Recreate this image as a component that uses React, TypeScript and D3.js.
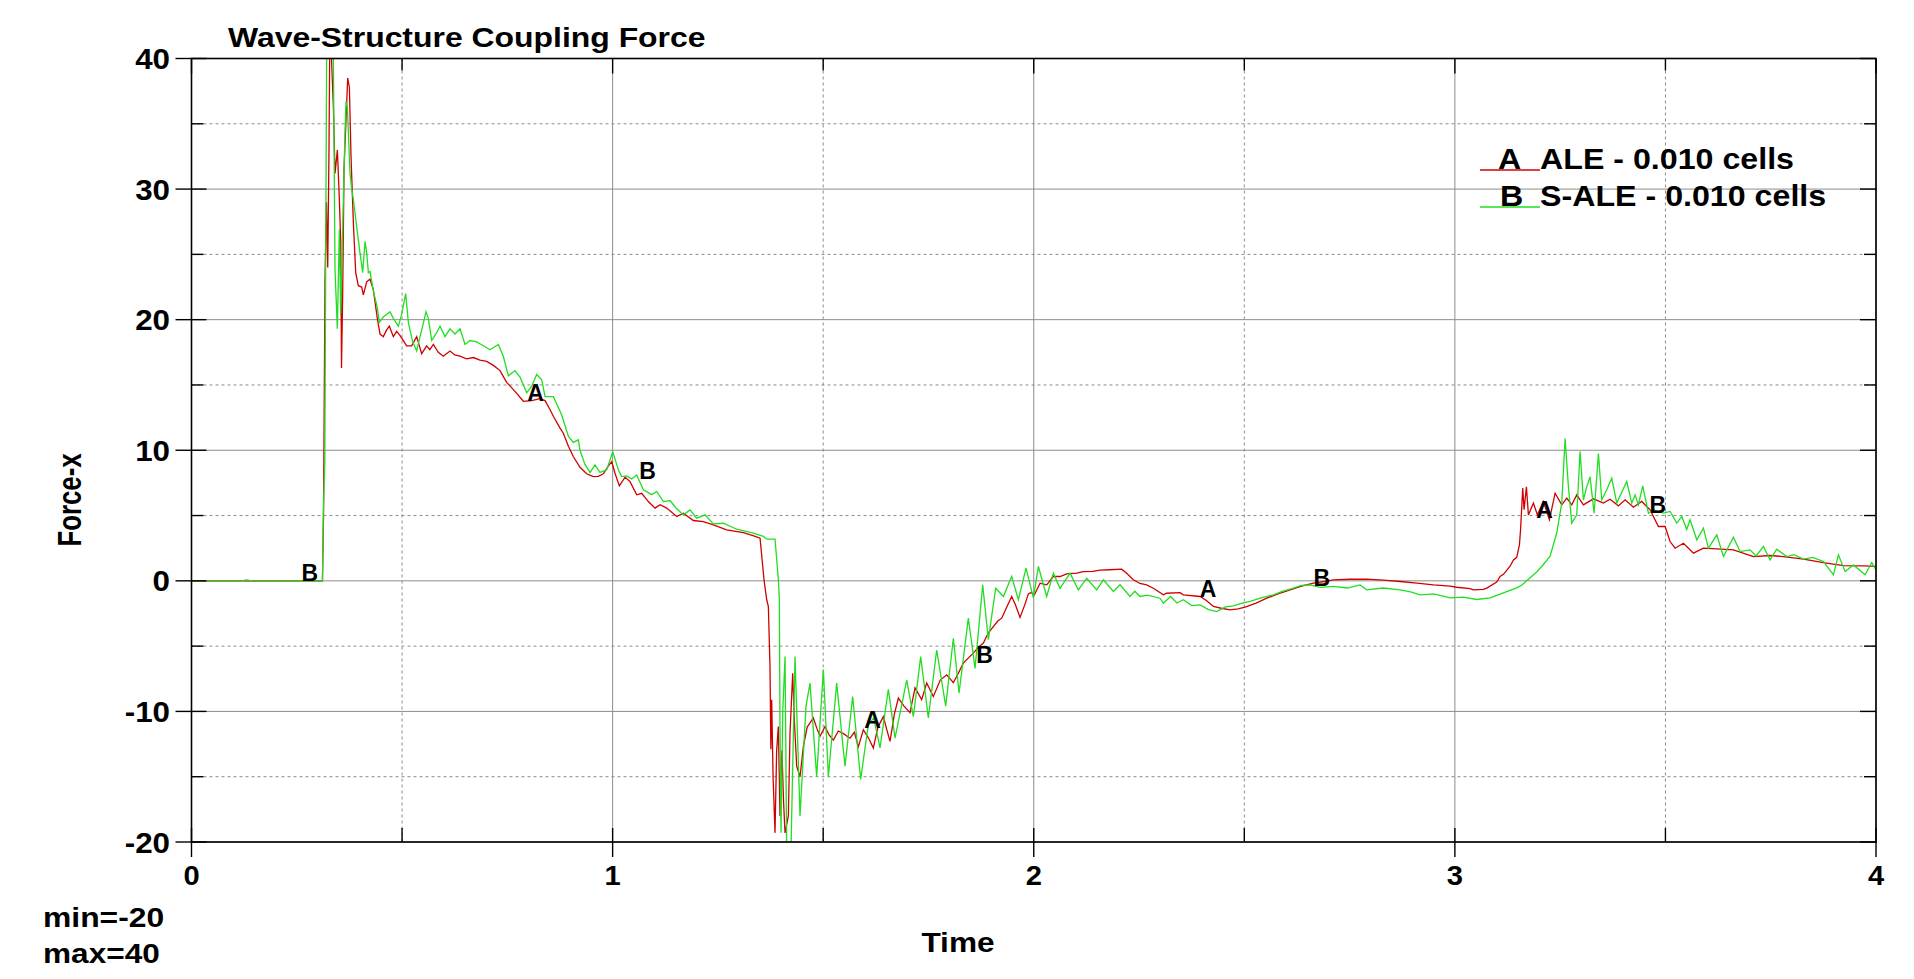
import React, { useEffect } from 'react';
import * as d3 from 'd3';

// ALE - 0.010 cells (curve A, red): [time, force-x]
const aleSeries: [number, number][] = [
  [0, 0], [0.311, 0], [0.3135, 5], [0.317, 23], [0.3205, 29], [0.3235, 24], [0.3265, 33], [0.3289, 44],
  [0.3329, 39.6], [0.3369, 36.3], [0.3408, 31.2], [0.3464, 33], [0.3511, 29.2], [0.3543, 26], [0.3562, 16.3],
  [0.359, 22], [0.3622, 31.6], [0.3669, 35.3], [0.3709, 38.5], [0.3749, 37.8], [0.3788, 32.5], [0.3844, 27.4],
  [0.3899, 23.6], [0.3962, 22.6], [0.4041, 22.5], [0.4081, 21.9], [0.416, 22.9], [0.4239, 23.1], [0.4318, 22.3],
  [0.4413, 20.1], [0.4476, 18.9], [0.4555, 18.7], [0.463, 19.2], [0.4698, 19.5], [0.4793, 18.7], [0.4872, 19.1],
  [0.495, 18.8], [0.503, 18.4], [0.5109, 18.0], [0.5228, 18.0], [0.5347, 18.7], [0.5466, 17.4], [0.5584, 18.0],
  [0.566, 17.7], [0.5743, 18.1], [0.586, 17.5], [0.598, 17.2], [0.6138, 17.6], [0.625, 17.3], [0.6376, 17.2],
  [0.653, 17.0], [0.6693, 17.1], [0.685, 16.9], [0.701, 16.8], [0.717, 16.5], [0.7326, 16.1], [0.7484, 15.2],
  [0.76, 14.8], [0.7722, 14.35], [0.788, 13.75], [0.8078, 13.8], [0.8276, 13.95], [0.8395, 13.8], [0.85, 13.2],
  [0.8593, 12.6], [0.8751, 11.7], [0.883, 11.3], [0.895, 10.3], [0.9068, 9.5], [0.9226, 8.7], [0.9384, 8.2],
  [0.9543, 7.98], [0.966, 8.0], [0.978, 8.2], [0.99, 8.8], [0.9978, 9.13], [1.006, 8.2], [1.016, 7.27],
  [1.0295, 7.94], [1.0413, 7.6], [1.0572, 6.59], [1.069, 6.7], [1.0849, 6.07], [1.1007, 5.57], [1.1126, 5.83],
  [1.1284, 5.57], [1.1522, 4.92], [1.168, 5.18], [1.1917, 4.62], [1.2155, 4.54], [1.2392, 4.28], [1.2709, 3.9],
  [1.3105, 3.7], [1.335, 3.45], [1.3501, 3.27], [1.355, 1.6], [1.3595, 0.08], [1.3659, -1.45], [1.3698, -1.97],
  [1.3737, -6.56], [1.3757, -12.9], [1.3777, -9.1], [1.381, -15], [1.3856, -19.3], [1.3895, -13], [1.3935, -11.15],
  [1.3975, -18.0], [1.402, -13], [1.406, -17], [1.4094, -19.3], [1.4173, -18.0], [1.4212, -11.7], [1.4276, -7.07],
  [1.432, -11], [1.4371, -14.2], [1.445, -15.0], [1.4529, -12.7], [1.462, -11.2], [1.4766, -10.5], [1.485, -11.3],
  [1.4925, -11.9], [1.5044, -11.15], [1.514, -11.8], [1.5241, -12.2], [1.536, -11.5], [1.5479, -11.7],
  [1.5637, -12.05], [1.574, -11.6], [1.5835, -12.7], [1.5954, -11.4], [1.607, -12.0], [1.6191, -12.8],
  [1.63, -11.2], [1.6429, -10.4], [1.651, -11.4], [1.6587, -12.3], [1.669, -10.2], [1.6785, -8.98], [1.692, -9.6],
  [1.7062, -10.1], [1.7181, -8.2], [1.7339, -9.1], [1.7458, -7.83], [1.7616, -8.86], [1.778, -7.6], [1.7933, -7.2],
  [1.8091, -7.8], [1.821, -7.07], [1.8328, -6.3], [1.845, -5.9], [1.8566, -5.54], [1.868, -5.1], [1.8804, -4.77],
  [1.892, -4.0], [1.9041, -3.5], [1.914, -3.1], [1.9239, -2.86], [1.936, -2.0], [1.9476, -1.2], [1.956, -1.8],
  [1.9674, -2.8], [1.978, -1.9], [1.9872, -1.0], [1.994, -0.9], [2.0015, -1.07], [2.015, -0.18], [2.0308, -0.31],
  [2.0466, 0.33], [2.0625, 0.33], [2.0782, 0.54], [2.1021, 0.59], [2.1178, 0.71], [2.14, 0.72], [2.1574, 0.82],
  [2.18, 0.85], [2.2088, 0.89], [2.22, 0.6], [2.2365, 0.08], [2.252, -0.2], [2.2682, -0.31], [2.284, -0.57],
  [2.3079, -1.07], [2.3157, -0.95], [2.3474, -0.9], [2.3553, -1.07], [2.395, -1.2], [2.41, -1.5], [2.4266, -1.96],
  [2.445, -2.1], [2.4662, -2.22], [2.485, -2.15], [2.5018, -2.01], [2.528, -1.7], [2.5533, -1.33], [2.58, -1.0],
  [2.6087, -0.69], [2.636, -0.4], [2.6641, -0.18], [2.69, -0.05], [2.7116, 0.08], [2.75, 0.12], [2.7907, 0.13],
  [2.83, 0.05], [2.8699, -0.05], [2.91, -0.18], [2.949, -0.31], [2.9886, -0.4], [3.0044, -0.49], [3.0361, -0.6],
  [3.044, -0.69], [3.0678, -0.66], [3.0757, -0.56], [3.0994, -0.1], [3.1073, 0.33], [3.1153, 0.5], [3.1311, 1.12],
  [3.139, 1.6], [3.1469, 1.8], [3.1533, 2.76], [3.156, 3.93], [3.1612, 7.1], [3.1643, 5.44], [3.1699, 7.2],
  [3.1746, 5.05], [3.1865, 5.95], [3.196, 5.05], [3.2102, 6.08], [3.2245, 4.67], [3.238, 6.71], [3.2538, 5.82],
  [3.2657, 6.33], [3.2775, 5.82], [3.2894, 6.58], [3.3052, 5.82], [3.329, 6.28], [3.3527, 5.95], [3.3686, 6.25],
  [3.3883, 5.74], [3.4042, 6.2], [3.424, 5.64], [3.4437, 6.08], [3.4635, 5.44], [3.4833, 4.16], [3.4992, 4.16],
  [3.511, 3.01], [3.5229, 2.5], [3.5427, 2.88], [3.5665, 2.12], [3.5902, 2.5], [3.6219, 2.45], [3.6614, 2.37],
  [3.709, 1.86], [3.7485, 1.94], [3.7802, 1.86], [3.8277, 1.66], [3.8752, 1.4], [3.9226, 1.17], [3.9702, 1.15],
  [4.0, 1.1],
];

// S-ALE - 0.010 cells (curve B, green): [time, force-x]
const saleSeries: [number, number][] = [
  [0, 0], [0.12, 0], [0.13, 0.08], [0.145, 0], [0.311, 0], [0.313, 5.3], [0.3165, 9], [0.3194, 30], [0.3215, 44],
  [0.329, 44], [0.3369, 40], [0.3408, 23.8], [0.3463, 19.3], [0.3511, 26.9], [0.3543, 20.5], [0.359, 27],
  [0.3646, 34.5], [0.3669, 36.7], [0.3701, 36.3], [0.3764, 31.2], [0.3804, 30.0], [0.3844, 29.2], [0.3923, 27.1],
  [0.4002, 25.1], [0.4065, 23.6], [0.4121, 26.0], [0.416, 25.1], [0.42, 23.6], [0.4239, 23.7], [0.4318, 22.2],
  [0.4413, 20.9], [0.446, 19.8], [0.4555, 20.2], [0.4714, 20.6], [0.4793, 20.1], [0.4912, 19.5], [0.4991, 20.4],
  [0.5086, 22.0], [0.5149, 19.8], [0.5252, 18.3], [0.5347, 17.6], [0.5426, 18.7], [0.5489, 19.5], [0.5569, 20.6],
  [0.5624, 20.1], [0.5703, 18.4], [0.5822, 19.0], [0.5901, 19.5], [0.602, 18.7], [0.6138, 19.3], [0.6257, 18.9],
  [0.6376, 19.3], [0.6495, 18.1], [0.6614, 18.4], [0.6772, 18.3], [0.693, 18.0], [0.7089, 17.7], [0.7286, 18.1],
  [0.7405, 17.2], [0.7524, 15.7], [0.7682, 16.1], [0.7801, 15.6], [0.796, 14.4], [0.8078, 14.9], [0.8197, 15.8],
  [0.8316, 15.4], [0.8395, 14.1], [0.8593, 14.1], [0.8791, 12.7], [0.895, 11.05], [0.9068, 10.6], [0.9186, 10.8],
  [0.9226, 10.0], [0.9345, 8.9], [0.9464, 8.3], [0.9582, 8.88], [0.9701, 8.3], [0.986, 8.5], [1.0002, 9.9],
  [1.0136, 8.5], [1.0215, 7.98], [1.0334, 8.03], [1.045, 7.8], [1.0572, 8.1], [1.073, 6.97], [1.0928, 6.6],
  [1.1047, 6.84], [1.1205, 6.07], [1.1363, 6.15], [1.15, 5.6], [1.168, 5.05], [1.1838, 5.43], [1.1997, 4.8],
  [1.2194, 5.05], [1.2392, 4.36], [1.263, 4.41], [1.2946, 3.95], [1.3342, 3.65], [1.3579, 3.4], [1.3659, 3.19],
  [1.3857, 3.19], [1.3936, 0.08], [1.3959, -1.45], [1.3975, -11.7], [1.3998, -19.3], [1.404, -10], [1.4094, -5.8],
  [1.4133, -20.5], [1.4236, -20.5], [1.4331, -5.8], [1.445, -18.0], [1.4592, -9.6], [1.4687, -7.83], [1.4845, -15.0],
  [1.5004, -6.8], [1.5123, -15.0], [1.532, -7.83], [1.5518, -14.2], [1.57, -8.86], [1.589, -15.2], [1.6072, -11.0],
  [1.62, -10.5], [1.6349, -12.8], [1.6547, -8.3], [1.6706, -12.05], [1.6983, -7.6], [1.7141, -10.4], [1.7315, -5.8],
  [1.7497, -10.5], [1.7695, -5.3], [1.7909, -9.6], [1.8091, -4.4], [1.8226, -8.6], [1.8447, -2.86], [1.8606, -6.7],
  [1.8788, -0.31], [1.8922, -4.5], [1.9096, -0.57], [1.9278, -1.2], [1.9476, 0.33], [1.9635, -1.45], [1.9817, 0.97],
  [1.9991, -1.3], [2.011, 1.1], [2.0307, -1.2], [2.0466, 0.59], [2.0624, -0.57], [2.0862, 0.59], [2.1059, -0.7],
  [2.1257, 0.2], [2.1495, -0.7], [2.1653, 0.08], [2.1891, -0.82], [2.205, -0.3], [2.2286, -1.2], [2.24, -0.8],
  [2.2524, -1.2], [2.27, -1.1], [2.2999, -1.33], [2.3078, -1.71], [2.325, -1.2], [2.34, -1.7], [2.3554, -1.45],
  [2.375, -1.9], [2.395, -1.84], [2.415, -2.2], [2.4345, -2.35], [2.455, -2.0], [2.4741, -1.91], [2.495, -1.7],
  [2.5137, -1.58], [2.54, -1.3], [2.5691, -1.07], [2.59, -0.8], [2.6166, -0.56], [2.635, -0.35], [2.6562, -0.31],
  [2.68, -0.5], [2.7116, -0.43], [2.745, -0.55], [2.7749, -0.31], [2.7907, -0.69], [2.83, -0.55], [2.8699, -0.69],
  [2.895, -0.85], [2.9174, -1.07], [2.95, -1.0], [2.9886, -1.31], [3.02, -1.25], [3.052, -1.43], [3.0836, -1.31],
  [3.1153, -0.92], [3.1469, -0.54], [3.16, -0.3], [3.1786, 0.23], [3.195, 0.7], [3.2102, 1.25], [3.2261, 1.89],
  [3.242, 3.68], [3.2538, 5.95], [3.2617, 10.9], [3.2696, 7.2], [3.2775, 4.42], [3.2894, 5.05], [3.2973, 9.9],
  [3.3052, 6.2], [3.3131, 7.2], [3.321, 7.97], [3.3306, 5.18], [3.3409, 9.75], [3.3488, 6.2], [3.3606, 6.97],
  [3.3725, 7.86], [3.3844, 5.95], [3.4081, 7.6], [3.42, 5.95], [3.4279, 6.58], [3.4358, 5.82], [3.4461, 7.27],
  [3.4596, 5.18], [3.4715, 5.44], [3.4952, 5.18], [3.511, 5.31], [3.5269, 4.42], [3.5388, 4.93], [3.5506, 3.93],
  [3.5585, 4.67], [3.5744, 3.14], [3.5902, 4.03], [3.6021, 2.5], [3.6219, 3.52], [3.6377, 1.86], [3.6614, 3.34],
  [3.6773, 2.24], [3.701, 2.37], [3.715, 1.9], [3.7327, 2.63], [3.7485, 1.61], [3.7643, 2.42], [3.7881, 1.86],
  [3.805, 2.0], [3.8277, 1.66], [3.85, 1.8], [3.8752, 1.48], [3.8989, 0.46], [3.9108, 1.99], [3.9266, 0.71],
  [3.9464, 1.22], [3.974, 0.46], [3.9899, 1.4], [4.0, 0.84],
];

// curve letter markers, placed at [time, force-x]
const aleMarkers: [number, number][] = [[0.817, 13.8], [1.617, -11.26], [2.414, -1.2], [3.213, 4.8]];
const saleMarkers: [number, number][] = [[0.281, 0], [1.083, 7.8], [1.883, -6.3], [2.684, -0.38], [3.482, 5.2]];

const xMajor = [0, 1, 2, 3, 4];
const xMinor = [0.5, 1.5, 2.5, 3.5];
const yMajor = [-20, -10, 0, 10, 20, 30, 40];
const yMinor = [-15, -5, 5, 15, 25, 35];

const legendItems = [
  { letter: 'A', label: 'ALE - 0.010 cells', color: '#d00000' },
  { letter: 'B', label: 'S-ALE - 0.010 cells', color: '#22dd22' },
];

const W = 1914;
const H = 979;
const plot = { left: 191.5, right: 1876, top: 58.5, bottom: 842 };
const FONT = '"Liberation Sans", Arial, sans-serif';
const GRID = '#8c8c8c';

const x = d3.scaleLinear().domain([0, 4]).range([plot.left, plot.right]);
const y = d3.scaleLinear().domain([-20, 40]).range([plot.bottom, plot.top]);

const line = d3
  .line<[number, number]>()
  .x((d) => x(d[0]))
  .y((d) => y(d[1]));

type TProps = {
  x: number;
  y: number;
  size: number;
  sx?: number;
  anchor?: 'start' | 'middle' | 'end';
  rotate?: number;
  children: React.ReactNode;
};

// bold text, slightly widened like the original plot output
const T = ({ x, y, size, sx = 1, anchor = 'start', rotate = 0, children }: TProps) => (
  <text
    transform={`translate(${x},${y}) rotate(${rotate}) scale(${sx},1)`}
    textAnchor={anchor}
    fontFamily={FONT}
    fontWeight="bold"
    fontSize={size}
    fill="#000"
  >
    {children}
  </text>
);

export default function App() {
  useEffect(() => {
    document.body.style.margin = '0';
    document.body.style.overflow = 'hidden';
  }, []);

  return (
    <svg width={W} height={H} style={{ display: 'block', background: '#fff' }}>
      <defs>
        <clipPath id="plotClip">
          <rect x={plot.left} y={plot.top} width={plot.right - plot.left} height={plot.bottom - plot.top} />
        </clipPath>
      </defs>

      {/* grid */}
      {xMinor.map((t) => (
        <line key={'xm' + t} x1={x(t)} x2={x(t)} y1={plot.top} y2={plot.bottom} stroke={GRID} strokeDasharray="3,3" />
      ))}
      {yMinor.map((v) => (
        <line key={'ym' + v} x1={plot.left} x2={plot.right} y1={y(v)} y2={y(v)} stroke={GRID} strokeDasharray="3,3" />
      ))}
      {xMajor.map((t) => (
        <line key={'xM' + t} x1={x(t)} x2={x(t)} y1={plot.top} y2={plot.bottom} stroke={GRID} />
      ))}
      {yMajor.map((v) => (
        <line key={'yM' + v} x1={plot.left} x2={plot.right} y1={y(v)} y2={y(v)} stroke={GRID} />
      ))}

      {/* curves */}
      <g clipPath="url(#plotClip)" fill="none" strokeWidth={1.3}>
        <path d={line(aleSeries) || ''} stroke={legendItems[0].color} />
        <path d={line(saleSeries) || ''} stroke={legendItems[1].color} />
      </g>

      {/* frame and ticks */}
      <rect
        x={plot.left}
        y={plot.top}
        width={plot.right - plot.left}
        height={plot.bottom - plot.top}
        fill="none"
        stroke="#000"
        strokeWidth={1.6}
      />
      <g stroke="#000" strokeWidth={1.4}>
        {yMajor.map((v) => (
          <g key={'ty' + v}>
            <line x1={plot.left - 16} x2={plot.left + 15} y1={y(v)} y2={y(v)} />
            <line x1={plot.right - 16} x2={plot.right} y1={y(v)} y2={y(v)} />
          </g>
        ))}
        {yMinor.map((v) => (
          <g key={'tym' + v}>
            <line x1={plot.left} x2={plot.left + 12} y1={y(v)} y2={y(v)} />
            <line x1={plot.right - 12} x2={plot.right} y1={y(v)} y2={y(v)} />
          </g>
        ))}
        {xMajor.map((t) => (
          <g key={'tx' + t}>
            <line x1={x(t)} x2={x(t)} y1={plot.bottom - 14} y2={plot.bottom + 15} />
            <line x1={x(t)} x2={x(t)} y1={plot.top} y2={plot.top + 15} />
          </g>
        ))}
        {xMinor.map((t) => (
          <g key={'txm' + t}>
            <line x1={x(t)} x2={x(t)} y1={plot.bottom - 14} y2={plot.bottom} />
            <line x1={x(t)} x2={x(t)} y1={plot.top} y2={plot.top + 12} />
          </g>
        ))}
      </g>

      {/* tick labels */}
      {yMajor.map((v) => (
        <T key={'ly' + v} x={170} y={y(v) + 10.5} size={29} sx={1.08} anchor="end">
          {v}
        </T>
      ))}
      {xMajor.map((t) => (
        <T key={'lx' + t} x={x(t)} y={885} size={28} sx={1.04} anchor="middle">
          {t}
        </T>
      ))}

      {/* curve markers */}
      {aleMarkers.map((d, i) => (
        <T key={'ma' + i} x={x(d[0])} y={y(d[1])} size={23} anchor="middle">
          A
        </T>
      ))}
      {saleMarkers.map((d, i) => (
        <T key={'mb' + i} x={x(d[0])} y={y(d[1])} size={23} anchor="middle">
          B
        </T>
      ))}

      {/* titles */}
      <T x={228} y={47} size={28} sx={1.14}>
        Wave-Structure Coupling Force
      </T>
      <T x={958} y={952} size={28} sx={1.13} anchor="middle">
        Time
      </T>
      <g transform="translate(81,500) rotate(-90) scale(0.89,1.12)">
        <text textAnchor="middle" fontFamily={FONT} fontWeight="bold" fontSize={29} fill="#000">
          Force-x
        </text>
      </g>
      <T x={43} y={927} size={27} sx={1.18}>
        min=-20
      </T>
      <T x={43} y={963} size={27} sx={1.17}>
        max=40
      </T>

      {/* legend */}
      {legendItems.map((d, i) => {
        const ly = 169 + i * 37;
        return (
          <g key={'lg' + d.letter}>
            <line x1={1480} x2={1540} y1={ly + 1} y2={ly + 1} stroke={d.color} strokeWidth={1.3} />
            <T x={1498 + i * 2} y={ly} size={29} sx={1.11}>
              {d.letter}
            </T>
            <T x={1540} y={ly} size={29} sx={1.11}>
              {d.label}
            </T>
          </g>
        );
      })}
    </svg>
  );
}
